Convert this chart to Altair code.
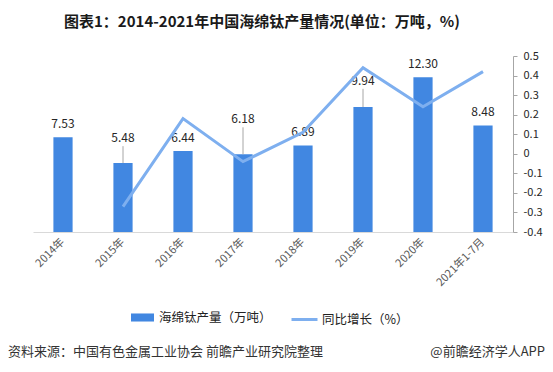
import altair as alt
import pandas as pd

# ---------------- data ----------------
years = ["2014年", "2015年", "2016年", "2017年", "2018年", "2019年", "2020年", "2021年1-7月"]
output = [7.53, 5.48, 6.44, 6.18, 6.89, 9.94, 12.30, 8.48]          # 万吨
growth = [None, -0.27, 0.18, -0.04, 0.11, 0.44, 0.24, 0.42]         # 同比增长
bar_name = "海绵钛产量（万吨）"
line_name = "同比增长（%）"
left_ticks = [0, 2, 4, 6, 8, 10, 12, 14]
right_ticks = [-0.4, -0.3, -0.2, -0.1, 0, 0.1, 0.2, 0.3, 0.4, 0.5]
title_text = "图表1：2014-2021年中国海绵钛产量情况(单位：万吨，%)"
source_text = "资料来源：中国有色金属工业协会 前瞻产业研究院整理"
brand_text = "@前瞻经济学人APP"

# label lifts (style: labels moved up with a leader line), in value units
lift = {"2015年": 0.95, "2017年": 1.75, "2019年": 1.05}

df = pd.DataFrame({
    "year": years,
    "output": output,
    "growth": growth,
    "bar_series": bar_name,
    "line_series": line_name,
})
df["lift"] = df["year"].map(lift).fillna(0.0)

FONT = "Noto Sans CJK SC"
BAR_C = "#4187E1"
LINE_C = "#7EAFEF"
AX_C = "#595959"

x_enc = alt.X(
    "year:N", sort=years, title=None,
    scale=alt.Scale(paddingInner=0.68, paddingOuter=0.34),
    axis=alt.Axis(labelAngle=-45, labelAlign="right", labelBaseline="middle",
                  labelColor=AX_C, labelFontSize=11, labelFont=FONT,
                  ticks=False, domainColor="#d9d9d9", labelPadding=8, grid=False),
)

y_left_scale = alt.Scale(domain=[0, 14], nice=False)

base = alt.Chart(df)

bars = base.mark_bar().encode(
    x=x_enc,
    y=alt.Y("output:Q", scale=y_left_scale, title=None,
            axis=alt.Axis(values=left_ticks, grid=False, domain=False, ticks=False,
                          labelColor=AX_C, labelFontSize=11, labelFont=FONT,
                          labelPadding=9)),
    color=alt.Color("bar_series:N", title=None,
                    scale=alt.Scale(domain=[bar_name], range=[BAR_C]),
                    legend=alt.Legend(orient="none", legendX=97, legendY=249,
                                      symbolType="M-1,-0.35H1V0.35H-1Z",
                                      symbolSize=529, labelFontSize=12.5,
                                      labelFont=FONT, labelColor="#222",
                                      labelOffset=4, padding=0)),
)

leaders = base.transform_filter("datum.lift > 0").transform_calculate(
    label_y="datum.output + datum.lift"
).mark_rule(color="#a6a6a6", strokeWidth=1, y2Offset=-5).encode(
    x=x_enc,
    y=alt.Y("output:Q", scale=y_left_scale, axis=None),
    y2="label_y:Q",
)

labels = base.transform_calculate(
    label_y="datum.output + datum.lift"
).mark_text(dy=-13, fontSize=12, font=FONT, color="#262626").encode(
    x=x_enc,
    y=alt.Y("label_y:Q", scale=y_left_scale, axis=None),
    text=alt.Text("output:Q", format=".2f"),
)

left = alt.layer(bars, leaders, labels)

line = base.mark_line(strokeWidth=3).encode(
    x=x_enc,
    y=alt.Y("growth:Q", title=None,
            scale=alt.Scale(domain=[-0.4, 0.5], nice=False),
            axis=alt.Axis(orient="right", values=right_ticks, grid=False,
                          labelExpr="datum.value == 0 ? '0' : toString(round(datum.value*10)/10)",
                          domainColor="#a6a6a6", tickColor="#a6a6a6", tickSize=4,
                          labelColor="#262626", labelFontSize=11, labelFont=FONT,
                          labelPadding=6)),
    stroke=alt.Stroke("line_series:N", title=None,
                      scale=alt.Scale(domain=[line_name], range=[LINE_C]),
                      legend=alt.Legend(orient="none", legendX=257, legendY=249,
                                        symbolType="stroke", symbolSize=676,
                                        symbolStrokeWidth=3, labelFontSize=12.5,
                                        labelFont=FONT, labelColor="#222",
                                        labelOffset=3, padding=0)),
)

note_df = pd.DataFrame({"src": [source_text], "brand": [brand_text]})
src = alt.Chart(note_df).mark_text(align="left", baseline="middle", fontSize=13,
                                   font=FONT, color="#333").encode(
    x=alt.value(-25), y=alt.value(296), text="src:N")
brand = alt.Chart(note_df).mark_text(align="right", baseline="middle", fontSize=13,
                                     font=FONT, color="#333").encode(
    x=alt.value(512), y=alt.value(296), text="brand:N")

chart = alt.layer(left, line, src, brand).resolve_scale(
    y="independent", color="independent", stroke="independent"
).properties(
    width=480, height=176,
    autosize=alt.AutoSizeParams(type="none"),
    padding={"left": 25, "top": 48, "right": 32, "bottom": 132},
    title=alt.TitleParams(title_text, anchor="middle", fontSize=15, font=FONT,
                          fontWeight="bold", color="#1a1a1a", offset=20, dx=-11),
).configure_view(stroke=None)

chart.save("out.html", embed_options={"renderer": "svg", "actions": False})
